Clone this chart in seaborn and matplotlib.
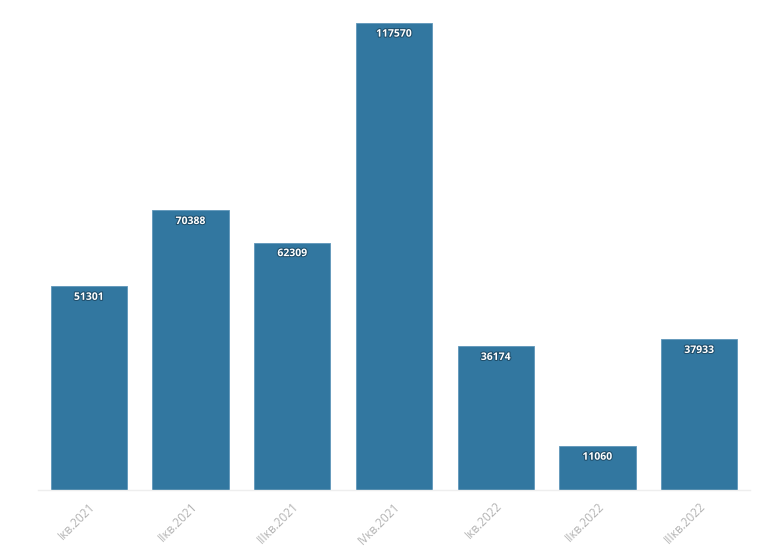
import matplotlib
matplotlib.use("Agg")
import matplotlib.pyplot as plt
import matplotlib.patheffects as pe
import seaborn as sns
import pandas as pd

categories = ["Iкв.2021", "IIкв.2021", "IIIкв.2021", "IVкв.2021", "Iкв.2022", "IIкв.2022", "IIIкв.2022"]
values = [51301, 70388, 62309, 117570, 36174, 11060, 37933]

df = pd.DataFrame({"cat": categories, "val": values})

sns.set_style("white")
plt.rcParams['font.family'] = ['Open Sans', 'DejaVu Sans']

fig = plt.figure(figsize=(7.68, 5.55), dpi=100)
ax = fig.add_axes([38/768, 65/555, (750-38)/768, (490-23)/555])

sns.barplot(data=df, x="cat", y="val", color="#3277a0", saturation=1, width=0.75,
            edgecolor="#5f97ba", linewidth=0.6, ax=ax)

ax.set_xlim(-0.5, 6.5)
ax.set_ylim(0, max(values))
ax.set_xlabel("")
ax.set_ylabel("")
ax.set_yticks([])
for s in ["top", "right", "left"]:
    ax.spines[s].set_visible(False)
ax.spines["bottom"].set_color("#eeeeee")
ax.spines["bottom"].set_linewidth(1)
ax.tick_params(axis="x", colors="#e6e6e6", length=5, width=0.8, pad=2)
for lbl in ax.get_xticklabels():
    lbl.set_rotation(45)
    lbl.set_ha("right")
    lbl.set_rotation_mode("anchor")
    lbl.set_color("#b3b3b3")
    lbl.set_fontsize(8.5)

for i, v in enumerate(values):
    ax.annotate(str(v), xy=(i, v), xytext=(0, -8), textcoords="offset points",
                ha="center", va="center", color="white", fontsize=7.5, fontweight="bold",
                path_effects=[pe.withStroke(linewidth=1.5, foreground="#1f4e6b")])

fig.savefig("out.png", dpi=100)
